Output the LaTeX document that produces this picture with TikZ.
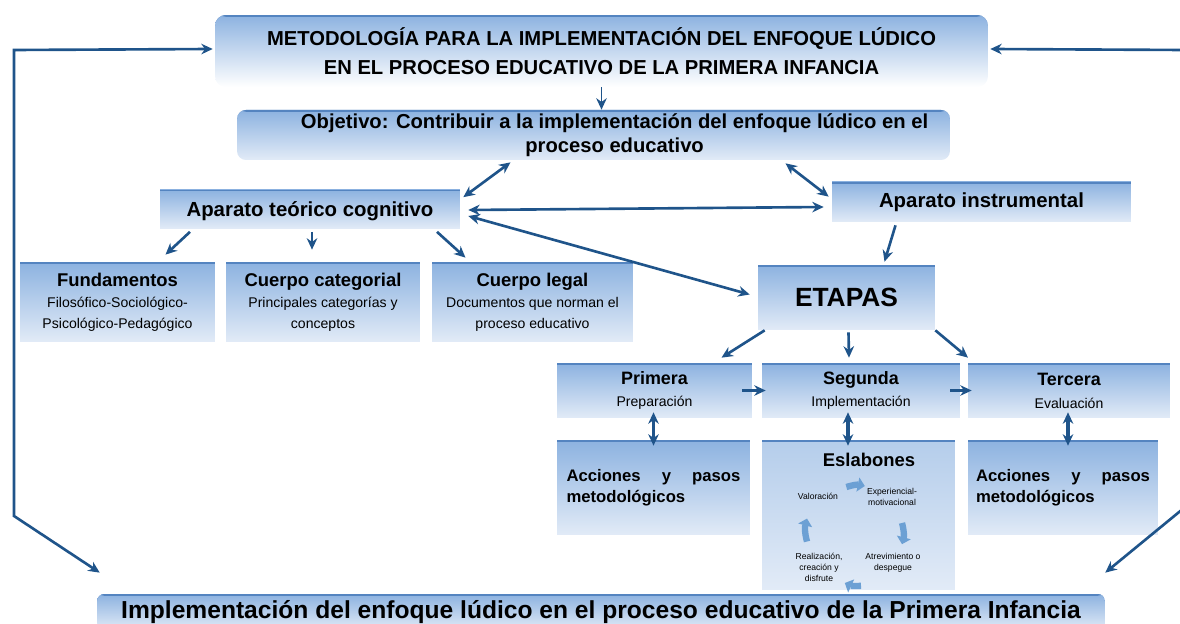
\documentclass[tikz,border=0pt]{standalone}
\usepackage{fontspec}
\setmainfont{Liberation Sans}
\usetikzlibrary{arrows.meta}
\definecolor{linkc}{RGB}{31,84,138}
\definecolor{boxtop}{RGB}{140,178,224}
\definecolor{boxbot}{RGB}{226,235,247}
\definecolor{boxedge}{RGB}{84,132,192}
\definecolor{cyclec}{RGB}{108,160,212}
\tikzset{
  box/.style={rectangle, top color=boxtop, bottom color=boxbot, inner sep=0pt, align=center,
    path picture={\fill[boxedge] (path picture bounding box.north west) rectangle ([yshift=-1pt]path picture bounding box.north east);}},
  link/.style={draw=linkc, line width=1.5pt, -{Stealth[length=6.5pt,width=6pt]}},
  twoway/.style={link, {Stealth[length=6.5pt,width=6pt]}-{Stealth[length=6.5pt,width=6pt]}},
  cyc/.style={draw=cyclec, line width=3.6pt, -{Triangle[length=4pt,width=8pt]}},
  cyctext/.style={inner sep=0pt, align=center, font=\fontsize{4.9}{6.2}\selectfont},
  hdr/.style={font=\fontsize{11.6}{13}\selectfont\bfseries},
}
\begin{document}
\begin{tikzpicture}[x=0.02cm,y=-0.02cm]
\useasboundingbox (0,0) rectangle (1180,624);
% title and objective
\node[box, bottom color=white, rounded corners=6pt, minimum width=15.46cm, minimum height=1.44cm, font=\fontsize{11.5}{16.5}\selectfont\bfseries] (title) at (601.5,51) {METODOLOGÍA PARA LA IMPLEMENTACIÓN DEL ENFOQUE LÚDICO\\EN EL PROCESO EDUCATIVO DE LA PRIMERA INFANCIA};
\node[box, rounded corners=5pt, minimum width=14.26cm, minimum height=1cm, font=\fontsize{11.5}{14}\selectfont\bfseries] (obj) at (593.5,135) {\hspace*{24pt}Objetivo: Contribuir a la implementación del enfoque lúdico en el\\\hspace*{24pt}proceso educativo};
% aparatos
\node[box, hdr, minimum width=6cm, minimum height=0.78cm, text depth=0pt, yshift=-2pt] (teo) at (310,205.5) {Aparato teórico cognitivo};
\node[box, hdr, minimum width=5.98cm, minimum height=0.8cm] (ins) at (981.5,202) {Aparato instrumental};
% aparato teorico
\node[box, minimum width=3.9cm, minimum height=1.6cm, font=\fontsize{8}{12}\selectfont] (fund) at (117.5,302) {{\fontsize{10.5}{13}\selectfont\bfseries Fundamentos}\\Filosófico-Sociológico-\\Psicológico-Pedagógico};
\node[box, minimum width=3.88cm, minimum height=1.6cm, font=\fontsize{8}{12}\selectfont] (cat) at (323,302) {{\fontsize{10.5}{13}\selectfont\bfseries Cuerpo categorial}\\Principales categorías y\\conceptos};
\node[box, minimum width=4.02cm, minimum height=1.6cm, font=\fontsize{8}{12}\selectfont] (leg) at (532.5,302) {{\fontsize{10.5}{13}\selectfont\bfseries Cuerpo legal}\\Documentos que norman el\\proceso educativo};
% etapas
\node[box, minimum width=3.54cm, minimum height=1.3cm, font=\fontsize{15}{17}\selectfont\bfseries] (etapas) at (846.5,297.5) {ETAPAS};
\node[box, minimum width=3.9cm, minimum height=1.1cm, font=\fontsize{8}{13}\selectfont] (prim) at (654.5,390.5) {{\fontsize{10.2}{13}\selectfont\bfseries Primera}\\Preparación};
\node[box, minimum width=3.96cm, minimum height=1.1cm, font=\fontsize{8}{13}\selectfont] (seg) at (861,390.5) {{\fontsize{10.2}{13}\selectfont\bfseries Segunda}\\Implementación};
\node[box, minimum width=4.04cm, minimum height=1.1cm, font=\fontsize{8}{13}\selectfont] (ter) at (1069,390.5) {{\fontsize{10.2}{13}\selectfont\bfseries Tercera}\\Evaluación};
\node[box, minimum width=3.86cm, minimum height=1.9cm, text width=3.48cm, align=left, font=\fontsize{9.5}{12}\selectfont\bfseries] (acc1) at (653.5,487.5) {Acciones\hfill y\hfill pasos\\metodológicos};
\node[box, top color=boxtop!65, bottom color=boxbot, minimum width=3.86cm, minimum height=3cm] (esl) at (858.5,515) {};
\node[box, minimum width=3.8cm, minimum height=1.9cm, text width=3.48cm, align=left, font=\fontsize{9.5}{12}\selectfont\bfseries] (acc2) at (1063,487.5) {Acciones\hfill y\hfill pasos\\metodológicos};
% eslabones
\node[inner sep=0pt, font=\fontsize{10.5}{13}\selectfont\bfseries] (eslt) at (869,460) {Eslabones};
\node[cyctext] (val) at (818,496) {Valoración};
\node[cyctext] (exp) at (892,497) {Experiencial-\\motivacional};
\node[cyctext] (atr) at (893,563) {Atrevimiento o\\despegue};
\node[cyctext] (rea) at (819,567) {Realización,\\creación y\\disfrute};
\draw[cyc] ([shift={(8,-9)}]val.east) to[bend left=15] ([shift={(-2,-11)}]exp.west);
\draw[cyc] ([shift={(10,17)}]exp.south) to[bend left=15] ([shift={(9,-9)}]atr.north);
\draw[cyc] ([shift={(-32,13)}]atr.south) to[bend left=15] ([shift={(2,16)}]rea.east);
\draw[cyc] ([shift={(-12,-11)}]rea.north) to[bend left=15] ([shift={(-11,19)}]val.south);
% resultado
\node[box, rounded corners=4pt, minimum width=20.16cm, minimum height=0.72cm, font=\fontsize{14}{16}\selectfont\bfseries] (fin) at (601,612) {Implementación del enfoque lúdico en el proceso educativo de la Primera Infancia};
% connectors
\draw[link, line width=1pt] (title.south) -- (title.south |- obj.north);
\draw[twoway] ([shift={(-83,2)}]obj.south) -- ([shift={(3,8)}]teo.north east);
\draw[twoway] ([shift={(192,3)}]obj.south) -- ([shift={(-3,15)}]ins.north west);
\draw[twoway] ([shift={(8,1)}]teo.east) -- ([shift={(-8,5)}]ins.west);
\draw[twoway] ([shift={(8,7)}]teo.east) -- ([shift={(-8,-3)}]etapas.west);
\draw[link] ([shift={(-120,3)}]teo.south) -- ([shift={(48,-7)}]fund.north);
\draw[link] ([shift={(2,3)}]teo.south) -- ([shift={(-11,-12)}]cat.north);
\draw[link] ([shift={(127,3)}]teo.south) -- ([shift={(-67,-4)}]leg.north);
\draw[link] ([shift={(-86,3)}]ins.south) -- ([shift={(38,-3)}]etapas.north);
\draw[link] ([shift={(7,0)}]etapas.south west) -- ([shift={(67,-5)}]prim.north);
\draw[link] ([shift={(2,2)}]etapas.south) -- ([shift={(-12,-5)}]seg.north);
\draw[link] (etapas.south east) -- ([shift={(-101,-5)}]ter.north);
\draw[link] ([shift={(-10,0)}]prim.east) -- ([shift={(4,0)}]seg.west);
\draw[link] ([shift={(-10,0)}]seg.east) -- ([shift={(4,0)}]ter.west);
\draw[twoway, line width=2pt] ([shift={(-1,-6)}]prim.south) -- ([shift={(0,6)}]acc1.north);
\draw[twoway, line width=2pt] ([shift={(-13,-6)}]seg.south) -- ([shift={(-10.5,6)}]esl.north);
\draw[twoway, line width=2pt] ([shift={(-1,-6)}]ter.south) -- ([shift={(5,6)}]acc2.north);
% frame
\coordinate (lbot) at (14,516);
\coordinate (ltop) at (14,50);
\coordinate (rbot) at (1184,508);
\coordinate (rtop) at (1184,50);
\draw[twoway] ([shift={(3,-21)}]fin.north west) -- (lbot) -- (ltop) -- ([shift={(-2,-2)}]title.west);
\draw[twoway] ([shift={(0,-21)}]fin.north east) -- (rbot) -- (rtop) -- ([shift={(2,-2)}]title.east);
\end{tikzpicture}
\end{document}
